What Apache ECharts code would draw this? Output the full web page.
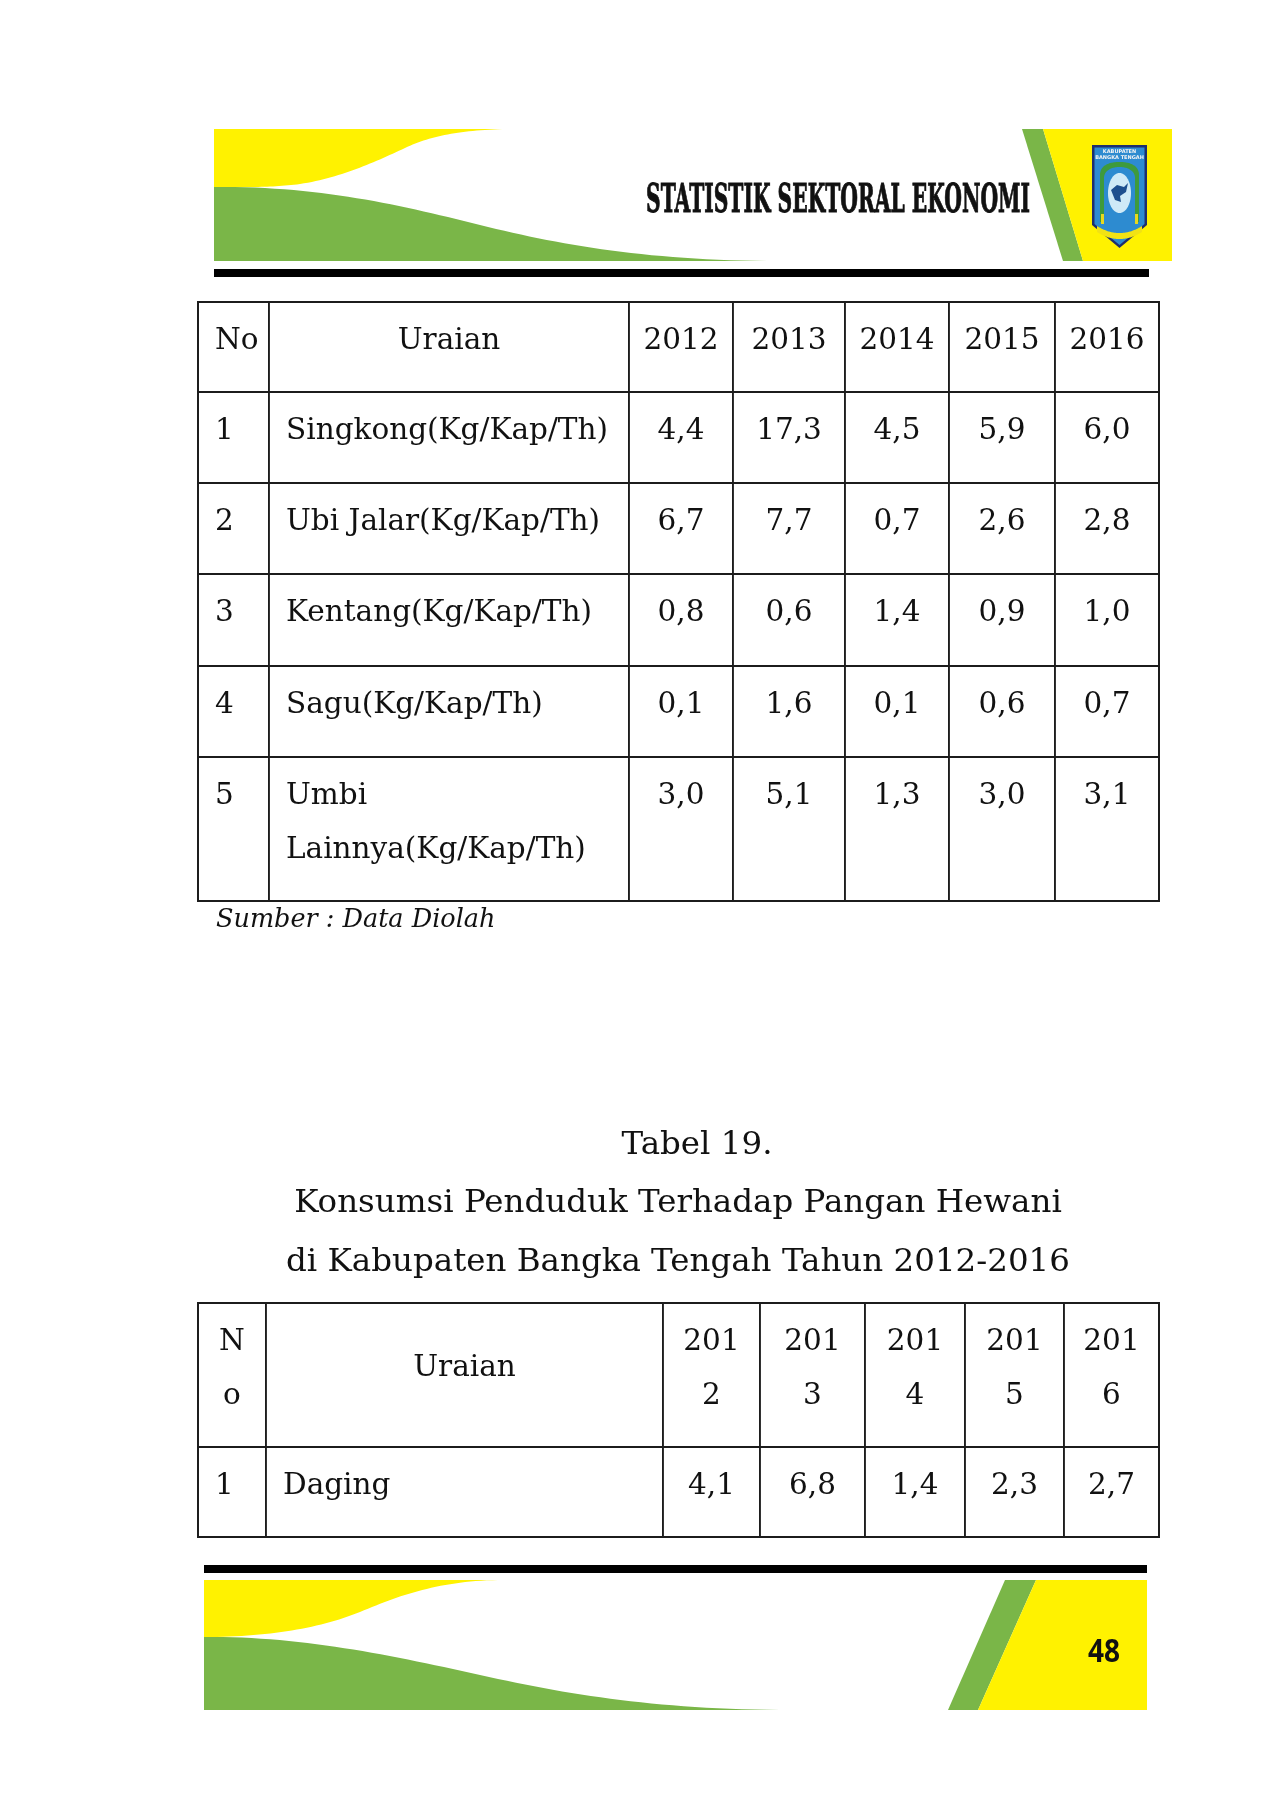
<!DOCTYPE html>
<html><head><meta charset="utf-8">
<script src="https://cdn.jsdelivr.net/npm/echarts@6/dist/echarts.min.js"></script>
<style>html,body{margin:0;padding:0;background:#fff}#c{width:1268px;height:1800px}</style>
</head><body><div id="c"></div>
<script>
// ---------------- data ----------------
const years = ['2012', '2013', '2014', '2015', '2016'];
const headNo = 'No';
const headItem = 'Uraian';
const t1Items = ['Singkong(Kg/Kap/Th)', 'Ubi Jalar(Kg/Kap/Th)', 'Kentang(Kg/Kap/Th)', 'Sagu(Kg/Kap/Th)', 'Umbi\nLainnya(Kg/Kap/Th)'];
const singkong = [4.4, 17.3, 4.5, 5.9, 6.0];
const ubiJalar = [6.7, 7.7, 0.7, 2.6, 2.8];
const kentang = [0.8, 0.6, 1.4, 0.9, 1.0];
const sagu = [0.1, 1.6, 0.1, 0.6, 0.7];
const umbiLainnya = [3.0, 5.1, 1.3, 3.0, 3.1];
const t2Items = ['Daging'];
const daging = [4.1, 6.8, 1.4, 2.3, 2.7];
const sourceNote = 'Sumber : Data Diolah';
const tableTitle = ['Tabel 19.', 'Konsumsi Penduduk Terhadap Pangan Hewani', 'di Kabupaten Bangka Tengah Tahun 2012-2016'];
const headerTitle = 'STATISTIK SEKTORAL EKONOMI';
const pageNo = '48';

// ---------------- style / layout ----------------
const YEL = '#FFF200', GRN = '#7AB648', INK = '#111111', LINE = '#1c1c1c';
const SERIF = 'DejaVu Serif';
function measure(txt, font) {
  const ctx = document.createElement('canvas').getContext('2d');
  ctx.font = font; return ctx.measureText(txt).width;
}
const fs = Math.round(30 * 768 / measure(tableTitle[1], '30px "' + SERIF + '"') * 2) / 2;
const fsTable = Math.round(30 * 324 / measure(t1Items[0], '30px "' + SERIF + '"') * 2) / 2;
const fsNote = Math.round(24 * 279 / measure(sourceNote, 'italic 24px "' + SERIF + '"') * 2) / 2;
const fmt = v => v.toFixed(1).replace('.', ',');

const t1ColW = [71, 360, 104, 112, 104, 106, 104];
const t1RowH = [90, 91, 91, 92, 91, 144];
const t2ColW = [68, 397, 97, 105, 100, 99, 95];
const t2RowH = [144, 90];
const LH = 54, PADT = 12, PADL = 17;

const lblLeftTop = { position: 'insideTopLeft', distance: 0, align: 'left', verticalAlign: 'top', padding: [PADT, 0, 0, PADL] };
const lblCenterTop = { position: 'insideTop', distance: 0, align: 'center', verticalAlign: 'top', padding: [PADT, 0, 0, 0] };
const lblCenterMid = { position: 'insideTop', distance: 0, align: 'center', verticalAlign: 'top', padding: [PADT + 26, 0, 0, 0] };

function makeMatrix(left, top, colW, rowH, cells) {
  const sum = a => a.reduce((s, v) => s + v, 0);
  return {
    left: left, top: top, width: sum(colW), height: sum(rowH),
    x: { show: false, data: colW.map((w, i) => ({ value: 'c' + i, size: w })) },
    y: { show: false, data: rowH.map((h, i) => ({ value: 'r' + i, size: h })) },
    body: {
      data: cells,
      itemStyle: { color: '#fff', borderColor: LINE, borderWidth: 1.8 },
      label: { fontFamily: SERIF, fontSize: fsTable, color: INK, lineHeight: LH, overflow: 'none' }
    },
    backgroundStyle: { color: '#fff', borderColor: LINE, borderWidth: 1.8 }
  };
}

// table 1 cells
const t1Rows = [singkong, ubiJalar, kentang, sagu, umbiLainnya];
const t1Cells = [];
[headNo, headItem].concat(years).forEach((h, ci) => {
  t1Cells.push({ coord: ['c' + ci, 'r0'], value: h, label: ci === 0 ? lblLeftTop : lblCenterTop });
});
t1Rows.forEach((vals, ri) => {
  t1Cells.push({ coord: ['c0', 'r' + (ri + 1)], value: String(ri + 1), label: lblLeftTop });
  t1Cells.push({ coord: ['c1', 'r' + (ri + 1)], value: t1Items[ri], label: lblLeftTop });
  vals.forEach((v, k) => t1Cells.push({ coord: ['c' + (k + 2), 'r' + (ri + 1)], value: fmt(v), label: lblCenterTop }));
});

// table 2 cells
const t2Rows = [daging];
const t2Cells = [];
t2Cells.push({ coord: ['c0', 'r0'], value: headNo.split('').join('\n'), label: lblCenterTop });
t2Cells.push({ coord: ['c1', 'r0'], value: headItem, label: lblCenterMid });
years.forEach((y, k) => t2Cells.push({ coord: ['c' + (k + 2), 'r0'], value: y.slice(0, 3) + '\n' + y.slice(3), label: lblCenterTop }));
t2Rows.forEach((vals, ri) => {
  t2Cells.push({ coord: ['c0', 'r' + (ri + 1)], value: String(ri + 1), label: lblLeftTop });
  t2Cells.push({ coord: ['c1', 'r' + (ri + 1)], value: t2Items[ri], label: lblLeftTop });
  vals.forEach((v, k) => t2Cells.push({ coord: ['c' + (k + 2), 'r' + (ri + 1)], value: fmt(v), label: lblCenterTop }));
});

// ---------------- decoration helpers ----------------
function cubic(p0, p1, p2, p3, n) {
  const pts = [];
  for (let i = 1; i <= n; i++) {
    const t = i / n, u = 1 - t;
    pts.push([u * u * u * p0[0] + 3 * u * u * t * p1[0] + 3 * u * t * t * p2[0] + t * t * t * p3[0],
              u * u * u * p0[1] + 3 * u * u * t * p1[1] + 3 * u * t * t * p2[1] + t * t * t * p3[1]]);
  }
  return pts;
}
function shape(start, segs) {
  let pts = [start], cur = start;
  segs.forEach(s => {
    if (s.length === 1) { pts.push(s[0]); cur = s[0]; }
    else { pts = pts.concat(cubic(cur, s[0], s[1], s[2], 30)); cur = s[2]; }
  });
  return pts;
}
const poly = (pts, fill, z) => ({ type: 'polygon', shape: { points: pts }, style: { fill: fill }, z: z || 1, silent: true });

const titleFont = 'bold 40px "' + SERIF + '"';
const titleScale = 384 / measure(headerTitle, titleFont);

const deco = [
  // header band
  poly(shape([214, 129], [[[507, 129]], [[460, 130], [430, 136], [405, 148]], [[375, 162], [340, 178], [300, 184]], [[270, 188], [240, 187], [214, 187]]]), YEL),
  poly(shape([214, 187], [[[320, 186], [400, 205], [480, 225]], [[560, 245], [650, 261], [780, 261]], [[214, 261]]]), GRN),
  poly([[1022, 129], [1043, 129], [1083, 261], [1063, 261]], GRN),
  poly([[1043, 129], [1172, 129], [1172, 261], [1083, 261]], YEL),
  { type: 'text', x: 646, y: 202, scaleX: titleScale, z: 3, silent: true,
    style: { text: headerTitle, font: titleFont, fill: '#111', stroke: '#111', lineWidth: 1, align: 'left', verticalAlign: 'middle' } },
  // logo
  poly([[1092, 145], [1147, 145], [1147, 225], [1119.5, 248], [1092, 225]], '#1d2f6e', 3),
  poly([[1094.5, 147.5], [1144.5, 147.5], [1144.5, 224], [1119.5, 245], [1094.5, 224]], '#2d8bd0', 4),
  poly(shape([1100, 222], [[[1100, 175]], [[1100, 166], [1108, 162], [1119.5, 162]], [[1131, 162], [1139, 166], [1139, 175]], [[1139, 222]]]), '#3e9a3c', 5),
  poly(shape([1104, 222], [[[1104, 178]], [[1104, 171], [1111, 167], [1119.5, 167]], [[1128, 167], [1135, 171], [1135, 178]], [[1135, 222]]]), '#2d8bd0', 6),
  poly(shape([1119.5, 173], [[[1126, 173], [1131, 182], [1131, 193]], [[1131, 204], [1126, 213], [1119.5, 213]], [[1113, 213], [1108, 204], [1108, 193]], [[1108, 182], [1113, 173], [1119.5, 173]]]), '#cfeaf7', 7),
  poly([[1111, 190], [1117, 185], [1124, 187], [1128, 183], [1126, 192], [1120, 196], [1121, 202], [1115, 200], [1113, 195]], '#1d4f8e', 8),
  poly([[1101, 214], [1104, 214], [1104, 224], [1101, 224]], '#e8d820', 8),
  poly([[1135, 214], [1138, 214], [1138, 224], [1135, 224]], '#e8d820', 8),
  poly(shape([1097, 226], [[[1105, 231], [1112, 233], [1119.5, 233]], [[1127, 233], [1134, 231], [1142, 226]], [[1142, 232]], [[1134, 237], [1127, 239], [1119.5, 239]], [[1112, 239], [1105, 237], [1097, 232]]]), '#f2e214', 9),
  { type: 'text', x: 1119.5, y: 152, z: 9, silent: true, style: { text: 'KABUPATEN', font: 'bold 5px "DejaVu Sans"', fill: '#f4f4f4', align: 'center', verticalAlign: 'middle' } },
  { type: 'text', x: 1119.5, y: 158, z: 9, silent: true, style: { text: 'BANGKA TENGAH', font: 'bold 5px "DejaVu Sans"', fill: '#f4f4f4', align: 'center', verticalAlign: 'middle' } },
  // header rule
  { type: 'rect', shape: { x: 214, y: 269, width: 935, height: 8 }, style: { fill: '#000' }, silent: true },
  // source note
  { type: 'text', x: 216, y: 920, silent: true, style: { text: sourceNote, font: 'italic ' + fsNote + 'px "' + SERIF + '"', fill: INK, align: 'left', verticalAlign: 'middle' } },
  // table 2 title
  { type: 'text', x: 697, y: 1146, silent: true, style: { text: tableTitle[0], font: fs + 'px "' + SERIF + '"', fill: INK, align: 'center', verticalAlign: 'middle' } },
  { type: 'text', x: 678, y: 1204, silent: true, style: { text: tableTitle[1], font: fs + 'px "' + SERIF + '"', fill: INK, align: 'center', verticalAlign: 'middle' } },
  { type: 'text', x: 678, y: 1263, silent: true, style: { text: tableTitle[2], font: fs + 'px "' + SERIF + '"', fill: INK, align: 'center', verticalAlign: 'middle' } },
  // footer rule
  { type: 'rect', shape: { x: 204, y: 1565, width: 943, height: 8 }, style: { fill: '#000' }, silent: true },
  // footer band
  poly(shape([204, 1580], [[[498, 1580]], [[440, 1581], [400, 1595], [360, 1612]], [[320, 1628], [270, 1637], [204, 1637]]]), YEL),
  poly(shape([204, 1637], [[[300, 1636], [390, 1655], [480, 1675]], [[570, 1695], [660, 1710], [793, 1710]], [[204, 1710]]]), GRN),
  poly([[1005, 1580], [1036, 1580], [978, 1710], [948, 1710]], GRN),
  poly([[1036, 1580], [1147, 1580], [1147, 1710], [978, 1710]], YEL),
  { type: 'text', x: 1104, y: 1653, scaleX: 0.85, z: 3, silent: true, style: { text: pageNo, font: 'bold 33px "Open Sans"', fill: '#111', align: 'center', verticalAlign: 'middle' } }
];

const chart = echarts.init(document.getElementById('c'), null, { renderer: 'canvas' });
chart.setOption({
  backgroundColor: '#fff',
  animation: false,
  matrix: [
    makeMatrix(198, 302, t1ColW, t1RowH, t1Cells),
    makeMatrix(198, 1303, t2ColW, t2RowH, t2Cells)
  ],
  graphic: { elements: deco }
});
</script>
</body></html>
